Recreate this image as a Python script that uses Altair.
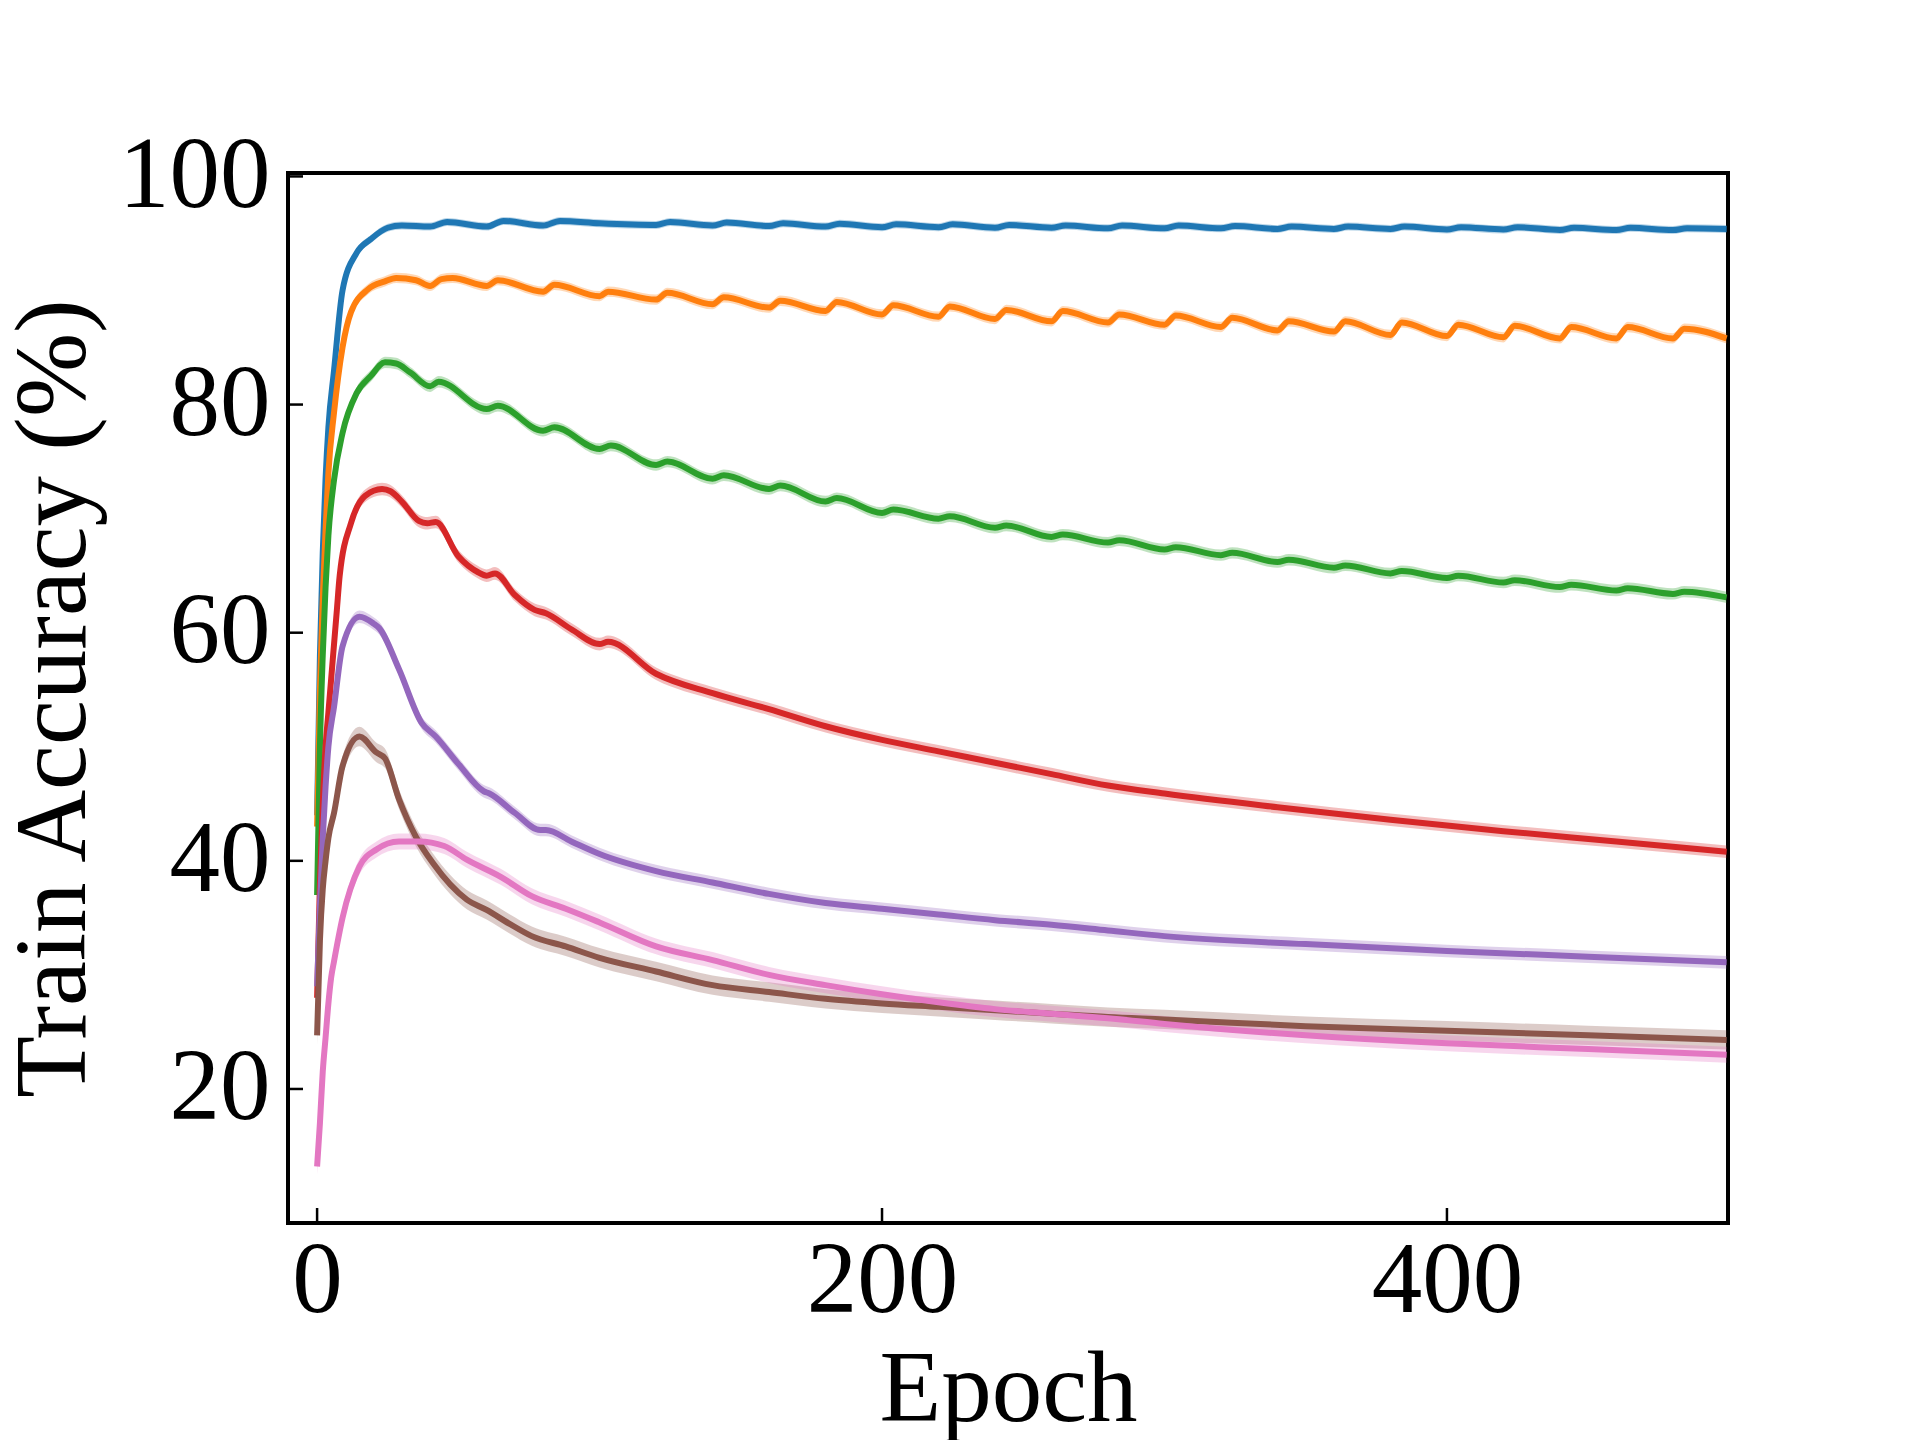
import altair as alt
import pandas as pd

# ---- data (epoch, train accuracy %) ----
series_names = ["s1", "s2", "s3", "s4", "s5", "s6", "s7"]
colors = ["#1f77b4", "#ff7f0e", "#2ca02c", "#d62728", "#9467bd", "#8c564b", "#e377c2"]

blue_x = [0, 1, 2, 3, 4, 6, 9, 14, 19, 25, 30, 40, 46, 60, 66, 80, 86, 100, 120, 125, 140, 145, 160, 165,
          180, 185, 200, 205, 220, 225, 240, 245, 260, 265, 280, 285, 300, 305, 320, 325, 340, 345, 360, 365,
          380, 385, 400, 405, 420, 425, 440, 445, 460, 465, 480, 485, 499]
blue_y = [44, 58, 67, 73.5, 78, 83, 90, 93.3, 94.5, 95.5, 95.7, 95.6, 96.0, 95.6, 96.1, 95.7, 96.1, 95.9, 95.75, 96.0,
          95.7, 95.95, 95.65, 95.9, 95.6, 95.85, 95.55, 95.8, 95.55, 95.8, 95.5, 95.75, 95.5, 95.7, 95.45, 95.7,
          95.45, 95.7, 95.45, 95.65, 95.4, 95.6, 95.4, 95.6, 95.4, 95.6, 95.35, 95.55, 95.35, 95.55, 95.3, 95.5,
          95.3, 95.5, 95.3, 95.45, 95.4]

orange_x = [0, 1, 2, 3, 4, 6, 9, 12, 18, 24, 28, 35, 40, 44, 48, 60, 64, 80, 84, 100, 103, 120, 124, 140, 144,
            160, 164, 180, 184, 200, 204, 220, 224, 240, 244, 260, 264, 280, 284, 300, 304, 320, 324, 340, 344,
            360, 364, 380, 384, 400, 404, 420, 424, 440, 444, 460, 464, 480, 484, 499]
orange_y = [43, 55, 63, 69, 74, 79.3, 85, 88.1, 90.1, 90.8, 91.1, 90.9, 90.4, 91.0, 91.1, 90.4, 90.9, 89.9, 90.5,
            89.5, 89.9, 89.2, 89.8, 88.8, 89.4, 88.5, 89.1, 88.2, 89.0, 87.9, 88.7, 87.7, 88.6, 87.5, 88.3,
            87.3, 88.2, 87.2, 87.9, 87.0, 87.8, 86.8, 87.6, 86.5, 87.3, 86.4, 87.3, 86.1, 87.2, 86.0, 87.0,
            85.9, 86.9, 85.8, 86.8, 85.8, 86.8, 85.8, 86.65, 85.8]

green_x = [0, 1, 2, 3, 4, 6, 9, 14, 19, 24, 28, 33, 40, 43, 60, 64, 80, 84, 100, 104, 120, 124, 140, 144, 160,
           164, 180, 184, 200, 204, 220, 224, 240, 244, 260, 264, 280, 284, 300, 304, 320, 324, 340, 344, 360,
           364, 380, 384, 400, 404, 420, 424, 440, 444, 460, 464, 480, 484, 499]
green_y = [37, 50, 58, 64, 68.5, 73.4, 77.5, 81.0, 82.5, 83.7, 83.6, 82.8, 81.6, 82.0, 79.6, 79.9, 77.7, 78.0,
           76.1, 76.4, 74.7, 75.0, 73.5, 73.8, 72.6, 72.9, 71.5, 71.8, 70.5, 70.8, 70.0, 70.2, 69.2, 69.4,
           68.4, 68.6, 67.9, 68.1, 67.3, 67.5, 66.8, 67.0, 66.2, 66.4, 65.7, 65.9, 65.2, 65.4, 64.8, 65.0,
           64.4, 64.6, 64.0, 64.2, 63.7, 63.9, 63.4, 63.6, 63.1]

red_x = [0, 1, 2, 3, 4, 5, 7, 8, 12, 17, 23, 26, 30, 36, 39, 42, 50, 57, 60, 63, 70, 77, 81, 90, 100, 103, 120,
         140, 160, 180, 200, 220, 240, 260, 280, 300, 340, 380, 420, 460, 499]
red_y = [28, 38, 45, 50, 53, 56, 62, 65, 69.6, 72.0, 72.6, 72.4, 71.5, 69.8, 69.6, 69.7, 66.7, 65.3, 65.0, 65.2,
         63.3, 62.0, 61.7, 60.3, 59.0, 59.2, 56.4, 54.7, 53.3, 51.8, 50.6, 49.6, 48.6, 47.6, 46.6, 45.9,
         44.7, 43.6, 42.6, 41.7, 40.8]

purple_x = [0, 1, 2, 3, 4, 6, 9, 15, 20, 22, 29, 37, 42, 50, 59, 61, 70, 79, 81, 90, 100, 120, 140, 160, 180,
            200, 220, 240, 260, 280, 300, 350, 400, 450, 499]
purple_y = [29, 36, 42, 46.5, 50, 53.5, 58.8, 61.4, 60.8, 60.4, 56.8, 52.1, 50.9, 48.5, 46.1, 45.9, 44.2, 42.7,
            42.7, 41.7, 40.6, 39.1, 38.1, 37.1, 36.3, 35.8, 35.3, 34.8, 34.4, 33.9, 33.4, 32.7, 32.1, 31.6, 31.1]

brown_x = [0, 1, 2, 3, 4, 6, 9, 15, 21, 24, 29, 35, 41, 53, 60, 68, 76, 88, 100, 120, 140, 160, 180, 200, 220,
           240, 260, 280, 300, 350, 400, 450, 499]
brown_y = [24.7, 33, 37.5, 40, 42, 44.2, 48.3, 50.9, 49.5, 49.0, 45.4, 42.1, 39.8, 36.6, 35.7, 34.5, 33.4, 32.5,
           31.5, 30.3, 29.1, 28.5, 27.9, 27.5, 27.2, 26.9, 26.6, 26.3, 26.1, 25.5, 25.1, 24.7, 24.3]

pink_x = [0, 1, 2, 3, 4, 5, 6, 9, 15, 21, 29, 36, 45, 53, 65, 76, 88, 100, 120, 140, 160, 180, 200, 220, 240,
          260, 280, 300, 350, 400, 450, 499]
pink_y = [13.2, 17, 21.5, 24.5, 27.5, 29.8, 31.2, 35.0, 39.5, 41.0, 41.7, 41.7, 41.3, 40.1, 38.6, 36.9, 35.8,
          34.6, 32.5, 31.3, 30.0, 29.1, 28.3, 27.6, 27.0, 26.6, 26.2, 25.7, 24.7, 24.0, 23.5, 23.0]

# half-width of the shaded band around each line
band_half = [0.35, 0.45, 0.5, 0.55, 0.55, 0.85, 0.7]

x_ticks = [0, 200, 400]
y_ticks = [20, 40, 60, 80, 100]

all_x = [blue_x, orange_x, green_x, red_x, purple_x, brown_x, pink_x]
all_y = [blue_y, orange_y, green_y, red_y, purple_y, brown_y, pink_y]

rows = []
for k, (name, xs, ys) in enumerate(zip(series_names, all_x, all_y)):
    for e, v in zip(xs, ys):
        rows.append({"series": name, "order": k, "epoch": e, "acc": v,
                     "lo": v - band_half[k], "hi": v + band_half[k]})
df = pd.DataFrame(rows)

W, H = 1440, 1050
FONT = "Liberation Serif"
FS = 101

xscale = alt.Scale(domain=[-10.3, 499.5], nice=False, zero=False)
yscale = alt.Scale(domain=[8.25, 100.3], nice=False, zero=False)

xaxis = alt.Axis(values=x_ticks, ticks=False, tickSize=0, domain=False, grid=False,
                 labelFont=FONT, labelFontSize=FS, labelColor="black", labelBaseline="alphabetic",
                 labelPadding=88, labelFlush=False,
                 title="Epoch", titleFont=FONT, titleFontSize=FS, titleFontWeight="normal",
                 titleColor="black", titleBaseline="alphabetic", titleX=W / 2, titleY=197,
                 titleAlign="center")
yaxis = alt.Axis(values=y_ticks, ticks=False, tickSize=0, domain=False, grid=False,
                 labelFont=FONT, labelFontSize=FS, labelColor="black", labelBaseline="middle",
                 labelPadding=18, labelFlush=False,
                 title="Train Accuracy (%)", titleFont=FONT, titleFontSize=FS, titleFontWeight="normal",
                 titleColor="black", titleBaseline="alphabetic", titleX=-204, titleY=H / 2,
                 titleAlign="center", titleAngle=270)

color = alt.Color("series:N", scale=alt.Scale(domain=series_names, range=colors), legend=None)

base = alt.Chart(df)

bands = base.mark_area(opacity=0.3, interpolate="monotone").encode(
    x=alt.X("epoch:Q", scale=xscale, axis=xaxis),
    y=alt.Y("lo:Q", scale=yscale, axis=yaxis),
    y2="hi:Q",
    color=color,
    detail="series:N",
)

lines = base.mark_line(strokeWidth=6, interpolate="monotone").encode(
    x=alt.X("epoch:Q", scale=xscale, axis=xaxis),
    y=alt.Y("acc:Q", scale=yscale, axis=yaxis),
    color=color,
    detail="series:N",
)

xt = alt.Chart(pd.DataFrame({"epoch": x_ticks})).mark_rule(color="black", strokeWidth=2.5).encode(
    x=alt.X("epoch:Q", scale=xscale, axis=xaxis),
    y=alt.value(H),
    y2=alt.value(H - 15),
)
yt = alt.Chart(pd.DataFrame({"acc": y_ticks})).mark_rule(color="black", strokeWidth=2.5).encode(
    y=alt.Y("acc:Q", scale=yscale, axis=yaxis),
    x=alt.value(0),
    x2=alt.value(15),
)

chart = alt.layer(bands, lines, xt, yt).properties(
    width=W, height=H,
    padding={"left": 280, "top": 165, "right": 150, "bottom": 240},
    autosize=alt.AutoSizeParams(type="none"),
    background="white",
).configure_view(stroke="black", strokeWidth=4)

chart.save("out.html", embed_options={"renderer": "svg", "actions": False})
